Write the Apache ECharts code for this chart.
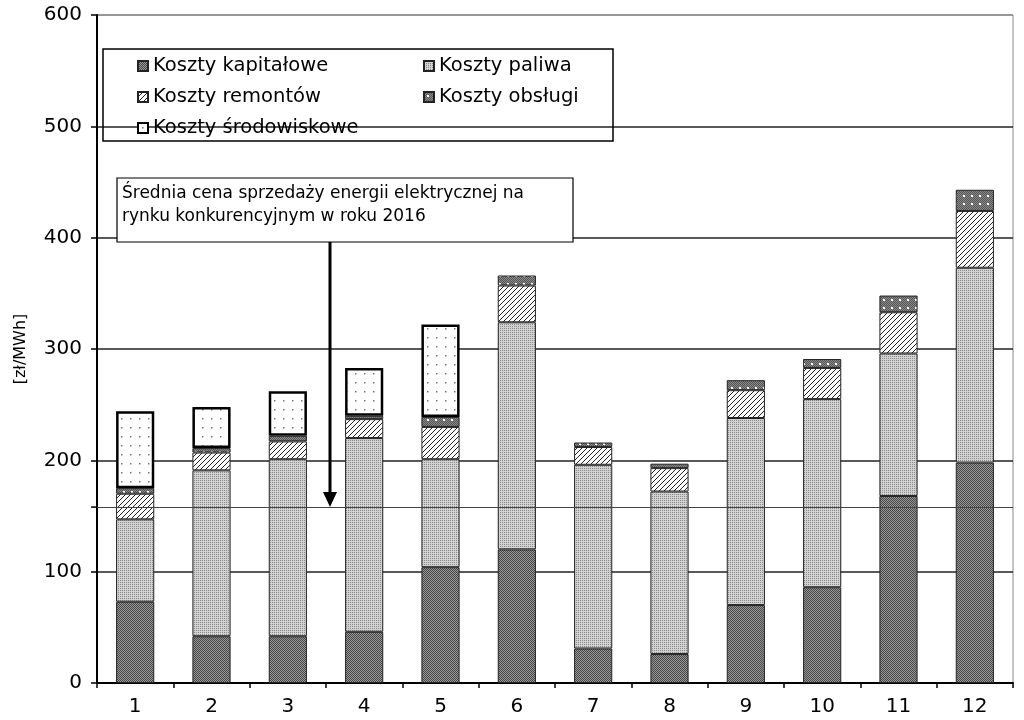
<!DOCTYPE html>
<html>
<head>
<meta charset="utf-8">
<script src="https://cdn.jsdelivr.net/npm/echarts@6/dist/echarts.min.js"></script>
<style>
html,body{margin:0;padding:0;background:#fff;}
#chart{width:1024px;height:720px;}
</style>
</head>
<body>
<div id="chart"></div>
<script>
// ---- data ----
const categories = ['1','2','3','4','5','6','7','8','9','10','11','12'];
const seriesNames = ['Koszty kapitałowe','Koszty paliwa','Koszty remontów','Koszty obsługi','Koszty środowiskowe'];
const kapitalowe   = [73, 42, 42, 46, 104, 120, 31, 26, 70, 86, 168, 198];
const paliwa       = [74, 149, 159, 174, 97, 204, 165, 146, 168, 169, 128, 175];
const remontow     = [23, 16, 16, 17, 29, 33, 16, 21, 25, 28, 37, 51];
const obslugi      = [5, 4, 5, 3, 9, 9, 4, 4, 9, 8, 15, 19];
const srodowiskowe = [69, 37, 40, 43, 83, '-', '-', '-', '-', '-', '-', '-'];
const avgPrice = 158;
const annotationText = 'Średnia cena sprzedaży energii elektrycznej na\nrynku konkurencyjnym w roku 2016';
const yTicks = [0, 100, 200, 300, 400, 500, 600];

// ---- patterns ----
function pat(size, draw){
  const c = document.createElement('canvas');
  c.width = size; c.height = size;
  const ctx = c.getContext('2d');
  draw(ctx, size);
  return {image: c, repeat: 'repeat'};
}
const pKap = pat(2, (g)=>{ g.fillStyle='#979797'; g.fillRect(0,0,2,2); g.fillStyle='#484848'; g.fillRect(0,0,1,1); g.fillRect(1,1,1,1); });
const pPal = pat(2, (g)=>{ g.fillStyle='#d2d2d2'; g.fillRect(0,0,2,2); g.fillStyle='#8a8a8a'; g.fillRect(0,0,1,1); });
const pRem = pat(5, (g,s)=>{ g.fillStyle='#fff'; g.fillRect(0,0,s,s); g.strokeStyle='#222'; g.lineWidth=1;
  g.beginPath(); g.moveTo(-1,s+1); g.lineTo(s+1,-1); g.moveTo(-1,1); g.lineTo(1,-1); g.moveTo(s-1,s+1); g.lineTo(s+1,s-1); g.stroke(); });
const pObs = pat(8, (g,s)=>{ g.fillStyle='#8a8a8a'; g.fillRect(0,0,s,s);
  g.fillStyle='#555'; for(let x=0;x<s;x++)for(let y=0;y<s;y++) if((x+y)%2===0) g.fillRect(x,y,1,1);
  g.fillStyle='#fff'; g.fillRect(3,3,2,2); });
const pSrod = pat(9, (g,s)=>{ g.fillStyle='#fff'; g.fillRect(0,0,s,s); g.fillStyle='#777'; g.fillRect(4,4,1.5,1.5); });

const font = 'DejaVu Sans, Verdana, sans-serif';
const chart = echarts.init(document.getElementById('chart'));

function barSeries(name, data, color, borderW, borderC){
  return {
    name: name, type: 'bar', stack: 'total', data: data, barWidth: '50%',
    itemStyle: {color: color, borderColor: borderC || '#222', borderWidth: borderW || 1},
    emphasis: {disabled: true}
  };
}

const series = [
  barSeries(seriesNames[0], kapitalowe, pKap),
  barSeries(seriesNames[1], paliwa, pPal),
  barSeries(seriesNames[2], remontow, pRem),
  barSeries(seriesNames[3], obslugi, pObs),
  barSeries(seriesNames[4], srodowiskowe, pSrod, 2.5, '#000')
];
series[0].markLine = {
  silent: true, symbol: 'none', label: {show: false},
  lineStyle: {color: '#444', width: 1, type: 'solid'},
  data: [{yAxis: avgPrice}]
};

const legendCommon = {
  orient: 'vertical', icon: 'rect', itemWidth: 10, itemHeight: 10, itemGap: 11, padding: 0,
  textStyle: {fontFamily: font, fontSize: 19.5, color: '#000', lineHeight: 20},
  selectedMode: false
};

chart.setOption({
  animation: false,
  backgroundColor: '#fff',
  grid: {left: 97, right: 11, top: 15, bottom: 37, show: true, borderColor: '#888', borderWidth: 1},
  legend: [
    Object.assign({}, legendCommon, {left: 137, top: 56, data: [seriesNames[0], seriesNames[2], seriesNames[4]]}),
    Object.assign({}, legendCommon, {left: 423, top: 56, data: [seriesNames[1], seriesNames[3]]})
  ],
  xAxis: {
    type: 'category', data: categories,
    axisLine: {lineStyle: {color: '#000', width: 2}},
    axisTick: {show: true, length: 5, lineStyle: {color: '#000', width: 1.5}},
    axisLabel: {fontFamily: font, fontSize: 20, color: '#000', margin: 14}
  },
  yAxis: {
    type: 'value', min: yTicks[0], max: yTicks[yTicks.length-1], interval: 100,
    name: '[zł/MWh]', nameLocation: 'middle', nameRotate: 90, nameGap: 68,
    nameTextStyle: {fontFamily: font, fontSize: 16, color: '#000'},
    axisLine: {show: true, lineStyle: {color: '#000', width: 2}},
    axisTick: {show: true, length: 6, lineStyle: {color: '#000', width: 1.5}},
    axisLabel: {fontFamily: font, fontSize: 20, color: '#000', margin: 15},
    splitLine: {show: true, lineStyle: {color: ['#000','#222','#222','#222','#222','#222','#888'], width: 1.5}}
  },
  series: series
});

// overlay graphics: legend frame, annotation box, arrow, extra tick
const arrowX = 330;
const tipY = chart.convertToPixel({yAxisIndex: 0}, avgPrice);
chart.setOption({
  graphic: [
    {type: 'rect', shape: {x: 103, y: 49, width: 510, height: 92}, style: {fill: 'rgba(255,255,255,0)', stroke: '#000', lineWidth: 1.5}, z: 1},
    {type: 'rect', shape: {x: 117, y: 178, width: 456, height: 64}, style: {fill: '#fff', stroke: '#000', lineWidth: 1.2}, z: 20},
    {type: 'text', left: 122, top: 182, z: 21, style: {text: annotationText, font: '17px ' + font, fill: '#000', lineHeight: 23}},
    {type: 'line', shape: {x1: arrowX, y1: 242, x2: arrowX, y2: tipY - 14}, style: {stroke: '#000', lineWidth: 3}, z: 20},
    {type: 'polygon', shape: {points: [[arrowX - 7, tipY - 15], [arrowX + 7, tipY - 15], [arrowX, tipY]]}, style: {fill: '#000'}, z: 20},
    {type: 'line', shape: {x1: 91, y1: tipY, x2: 97, y2: tipY}, style: {stroke: '#000', lineWidth: 1.5}, z: 20}
  ]
});
</script>
</body>
</html>
